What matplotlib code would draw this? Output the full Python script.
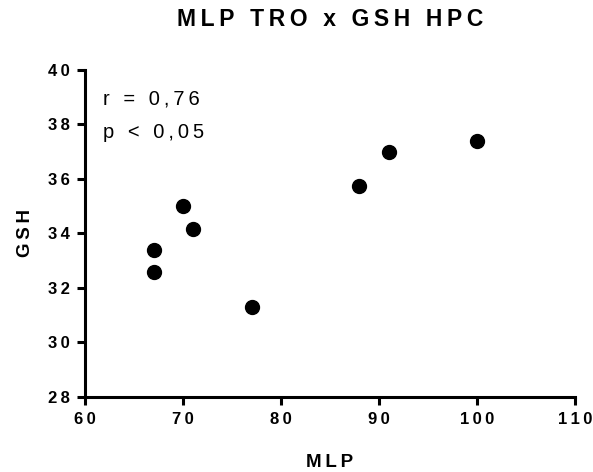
import matplotlib.pyplot as plt

plt.rcParams['font.family'] = ['Liberation Sans', 'DejaVu Sans']

# Data
mlp = [67, 67, 70, 71, 77, 88, 91, 100]
gsh = [33.4, 32.6, 35.0, 34.15, 31.3, 35.75, 37.0, 37.4]
x_ticks = [60, 70, 80, 90, 100, 110]
y_ticks = [28, 30, 32, 34, 36, 38, 40]


# Prism-style letter spacing: thin space between characters
def spaced(s):
    return '\u2009'.join(s)


fig = plt.figure(figsize=(5.93, 4.72), dpi=100)
ax = fig.add_axes([0.1433, 0.159, 0.8263, 0.6927])

ax.plot(mlp, gsh, 'o', color='black', markersize=10)

ax.set_xlim(60, 110)
ax.set_ylim(28, 40)
ax.set_xticks(x_ticks)
ax.set_yticks(y_ticks)
ax.set_xticklabels([spaced(str(t)) for t in x_ticks], fontweight='bold', fontsize=12)
ax.set_yticklabels([spaced(str(t)) for t in y_ticks], fontweight='bold', fontsize=12)

for s in ['top', 'right']:
    ax.spines[s].set_visible(False)
for s in ['left', 'bottom']:
    ax.spines[s].set_linewidth(2.2)
    ax.spines[s].set_capstyle('projecting')
ax.tick_params(width=2.2, length=6, direction='out', pad=5)

ax.set_xlabel(spaced('MLP'), fontweight='bold', fontsize=13.5, labelpad=19)
ax.set_ylabel(spaced('GSH'), fontweight='bold', fontsize=13.5, labelpad=10)
fig.text(0.556, 0.958, spaced('MLP TRO x GSH HPC'), fontweight='bold', fontsize=16.5,
         ha='center', va='center')

ax.text(0.037, 0.896, spaced('r = 0,76'), transform=ax.transAxes, fontsize=14.5,
        va='baseline', ha='left')
ax.text(0.037, 0.792, spaced('p < 0,05'), transform=ax.transAxes, fontsize=14.5,
        va='baseline', ha='left')

fig.savefig('out.png', dpi=100)
